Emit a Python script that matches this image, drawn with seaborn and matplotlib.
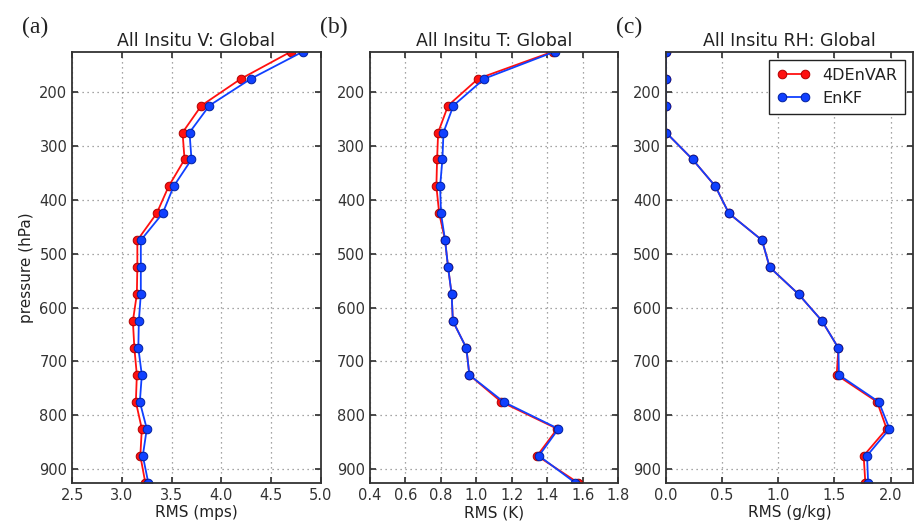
import numpy as np
import pandas as pd
import matplotlib
matplotlib.use('Agg')
import matplotlib.pyplot as plt
import seaborn as sns

# pressure levels (hPa), top to bottom
levels = [125, 175, 225, 275, 325, 375, 425, 475, 525, 575,
          625, 675, 725, 775, 825, 875, 925]
models = ['4DEnVAR', 'EnKF']

v_4denvar = [4.70, 4.20, 3.80, 3.61, 3.63, 3.47, 3.35, 3.155, 3.155, 3.15,
             3.11, 3.125, 3.15, 3.14, 3.20, 3.185, 3.235]
v_enkf = [4.82, 4.30, 3.88, 3.68, 3.70, 3.52, 3.41, 3.19, 3.19, 3.19,
          3.17, 3.165, 3.20, 3.18, 3.25, 3.21, 3.265]

t_4denvar = [1.43, 1.01, 0.84, 0.784, 0.778, 0.774, 0.79, 0.823, 0.84, 0.86,
             0.867, 0.943, 0.96, 1.14, 1.455, 1.342, 1.572]
t_enkf = [1.44, 1.045, 0.87, 0.814, 0.808, 0.795, 0.80, 0.823, 0.84, 0.86,
          0.867, 0.943, 0.96, 1.153, 1.462, 1.352, 1.556]

rh_4denvar = [0.0, 0.0, 0.0, 0.0, 0.237, 0.44, 0.56, 0.855, 0.923, 1.18,
              1.39, 1.535, 1.52, 1.88, 1.965, 1.76, 1.775]
rh_enkf = [0.0, 0.0, 0.0, 0.0, 0.237, 0.44, 0.56, 0.855, 0.923, 1.18,
           1.39, 1.535, 1.54, 1.895, 1.99, 1.79, 1.80]

panels = [
    ('(a)', 'All Insitu V: Global', 'RMS (mps)', v_4denvar, v_enkf,
     (2.5, 5.0), np.arange(2.5, 5.01, 0.5)),
    ('(b)', 'All Insitu T: Global', 'RMS (K)', t_4denvar, t_enkf,
     (0.4, 1.8), np.arange(0.4, 1.81, 0.2)),
    ('(c)', 'All Insitu RH: Global', 'RMS (g/kg)', rh_4denvar, rh_enkf,
     (0.0, 2.2), np.arange(0.0, 2.01, 0.5)),
]

sns.set_theme(style='white', rc={
    'axes.edgecolor': '#333333',
    'axes.linewidth': 1.3,
    'xtick.direction': 'in',
    'ytick.direction': 'in',
    'xtick.top': True,
    'ytick.right': True,
    'xtick.bottom': True,
    'ytick.left': True,
    'xtick.major.size': 4,
    'ytick.major.size': 4,
    'xtick.color': '#333333',
    'ytick.color': '#333333',
    'text.color': '#222222',
    'axes.labelcolor': '#222222',
})
plt.rcParams['font.family'] = ['DejaVu Sans']

palette = {'4DEnVAR': '#ff1010', 'EnKF': '#1040ff'}
edge = {'4DEnVAR': '#b00000', 'EnKF': '#0020a0'}

fig = plt.figure(figsize=(9.17, 5.29), dpi=100)
lefts = [0.0788, 0.4035, 0.7263]
widths = [0.2709, 0.2709, 0.2694]

for i, (tag, title, xlabel, a, b, xlim, xticks) in enumerate(panels):
    ax = fig.add_axes([lefts[i], 0.0875, widths[i], 0.8148])
    df = pd.DataFrame({
        'rms': a + b,
        'pressure': levels + levels,
        'model': [models[0]] * len(levels) + [models[1]] * len(levels),
    })
    for m in models:
        sub = df[df['model'] == m]
        sns.lineplot(data=sub, x='rms', y='pressure', orient='y', sort=False,
                     color=palette[m], marker='o', markersize=6.2,
                     markeredgecolor=edge[m], markeredgewidth=0.7,
                     linewidth=1.3, label=m, ax=ax, legend=(i == 2))
    ax.set_xlim(*xlim)
    ax.set_ylim(925, 125)
    ax.set_xticks(xticks)
    ax.set_xticklabels(['{:.1f}'.format(t) for t in xticks], fontsize=10.5)
    ax.set_yticks(range(200, 901, 100))
    ax.set_yticklabels([str(t) for t in range(200, 901, 100)], fontsize=10.5)
    ax.grid(True, linestyle=(0, (1, 3)), color='#888888', linewidth=0.9)
    ax.set_title(title, fontsize=12.5, pad=4)
    ax.set_xlabel(xlabel, fontsize=11, labelpad=2)
    if i == 0:
        ax.set_ylabel('pressure (hPa)', fontsize=11)
    else:
        ax.set_ylabel('')
    fig.text(lefts[i] - 0.055, 0.948, tag, fontsize=17,
             family=['Liberation Serif', 'DejaVu Serif'], va='center')
    if i == 2:
        leg = ax.legend(loc='upper right', fontsize=11.5, frameon=True,
                        fancybox=False, edgecolor='#222222', framealpha=1,
                        numpoints=2, handlelength=2.0, borderpad=0.5)
        leg.get_frame().set_linewidth(1.0)

fig.savefig('out.png', dpi=100)
